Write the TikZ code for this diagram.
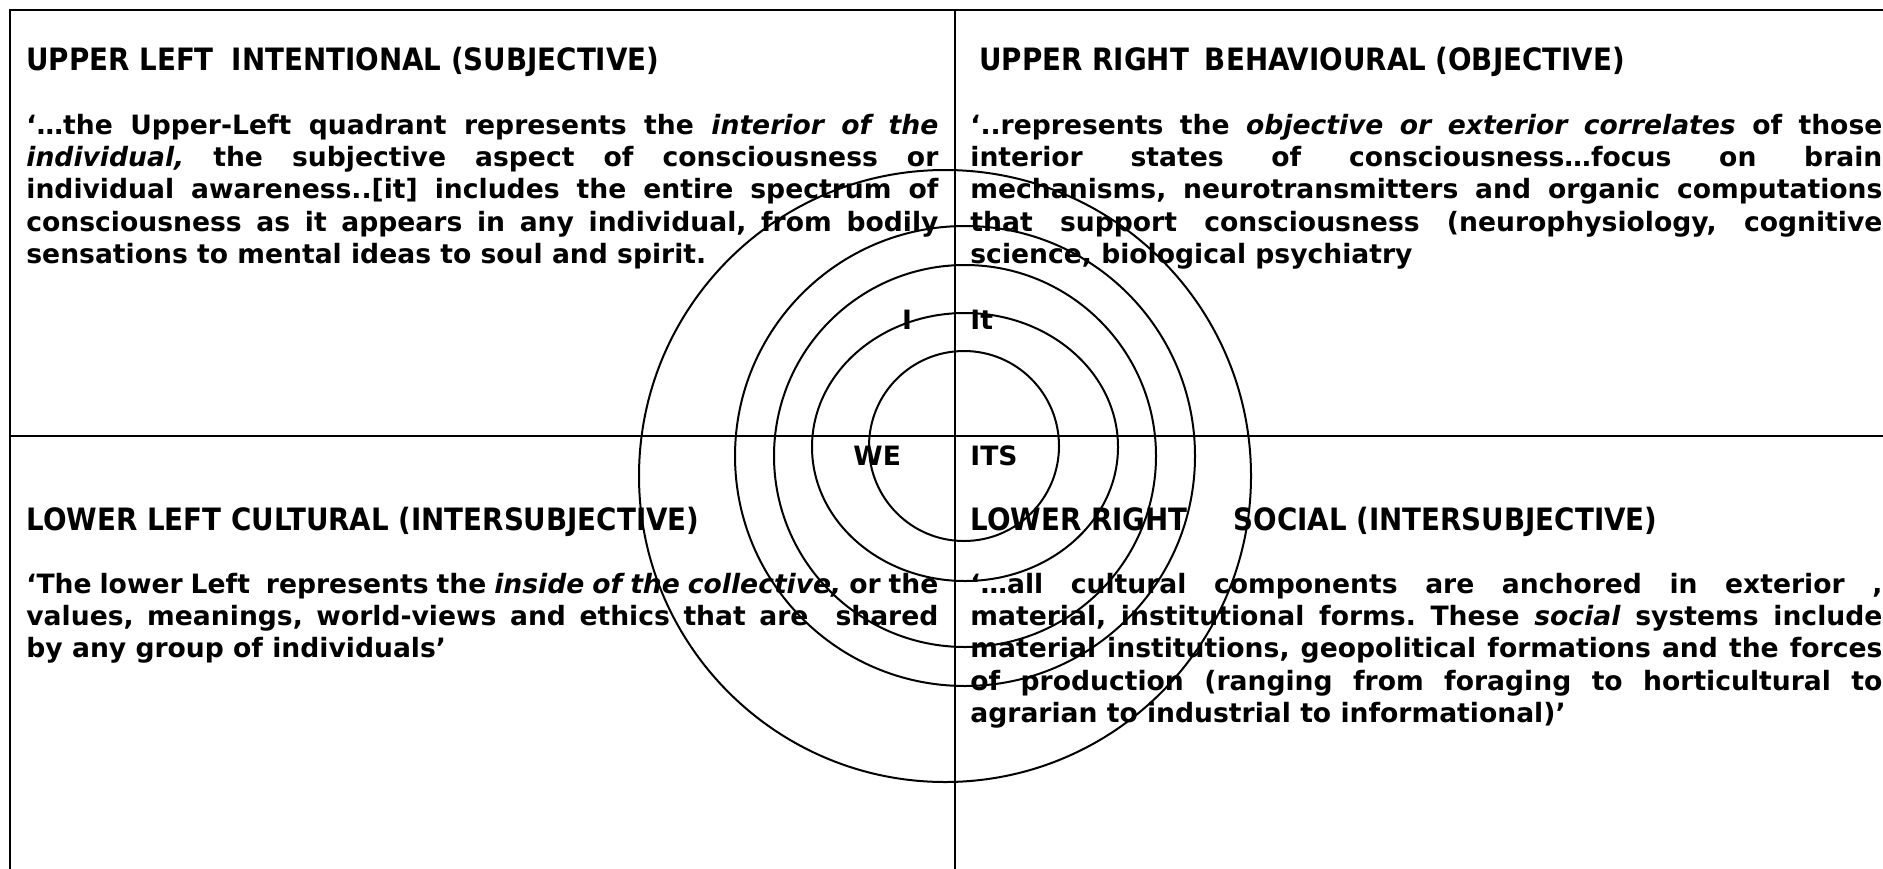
\documentclass[tikz,border=0pt]{standalone}
\usepackage{fontspec}
\setmainfont{DejaVu Sans}
\newfontfamily\headfont[FakeStretch=0.9]{DejaVu Sans}
\usepackage{tikz}

\newcommand\quadfont{\bfseries\fontsize{13.3}{16.2}\selectfont\frenchspacing
  \hyphenpenalty=10000\relax\tolerance=10000\relax}

\tikzset{
  quadtext/.style={anchor=base west, inner sep=0pt, text width=456pt, align=justify, font=\quadfont},
  quadhead/.style={anchor=base west, inner sep=0pt, font=\headfont\bfseries\fontsize{15.4}{18}\selectfont},
  tag/.style={anchor=base west, inner sep=0pt, font=\quadfont},
  ring/.style={line width=1pt},
  divider/.style={line width=0.7pt}
}

\begin{document}
\begin{tikzpicture}[x=0.5pt,y=-0.5pt]
\useasboundingbox (0,0) rectangle (1883,868);

% frame and the two dividers
\draw[divider] (10,10) rectangle (1900,890);
\draw[line width=1pt] (10,10)--(1900,10);
\draw[divider] (955,10)--(955,890);
\draw[divider] (10,436)--(1900,436);

% upper left
\node[quadhead] (ulhead) at (26,70) {UPPER LEFT\hspace{9pt}INTENTIONAL (SUBJECTIVE)};
\node[quadtext] (ultext) at (26,134) {`\ldots the Upper-Left quadrant represents the \textit{interior of the}\linebreak
\textit{individual,} the subjective aspect of consciousness or\linebreak
individual awareness..[it] includes the entire spectrum of\linebreak
consciousness as it appears in any individual, from bodily\linebreak
sensations to mental ideas to soul and spirit.};

% upper right
\node[quadhead] (urhead) at (979,70) {UPPER RIGHT\hspace{8pt}BEHAVIOURAL (OBJECTIVE)};
\node[quadtext] (urtext) at (970,134) {`..represents the \textit{objective or exterior correlates} of those\linebreak
interior states of consciousness\ldots focus on brain\linebreak
mechanisms, neurotransmitters and organic computations\linebreak
that support consciousness (neurophysiology, cognitive\linebreak
science, biological psychiatry};

% lower left
\node[quadhead] (llhead) at (26,530) {LOWER LEFT CULTURAL (INTERSUBJECTIVE)};
\node[quadtext] (lltext) at (26,593) {`The lower Left\ \ represents the \textit{inside of the collective,} or the\linebreak
values, meanings, world-views and ethics that are\ \ shared\linebreak
by any group of individuals'};

% lower right
\node[quadhead] (lrhead) at (970,530) {LOWER RIGHT\hspace{23pt}SOCIAL (INTERSUBJECTIVE)};
\node[quadtext] (lrtext) at (970,593) {`\ldots all cultural components are anchored in exterior ,\linebreak
material, institutional forms. These \textit{social} systems include\linebreak
material institutions, geopolitical formations and the forces\linebreak
of production (ranging from foraging to horticultural to\linebreak
agrarian to industrial to informational)'};

% the rings
\draw[ring] (964,446) circle[radius=95];
\draw[ring] (965,447) ellipse[x radius=153, y radius=134];
\draw[ring] (965,456) circle[radius=191];
\draw[ring] (965,456) circle[radius=230];
\draw[ring] (945,476) circle[radius=306];

\node[tag, anchor=base] (i) at (907,329) {I};
\node[tag] (it) at (970,329) {It};
\node[tag] (we) at (853,465) {WE};
\node[tag] (its) at (970,465) {ITS};

\end{tikzpicture}
\end{document}
